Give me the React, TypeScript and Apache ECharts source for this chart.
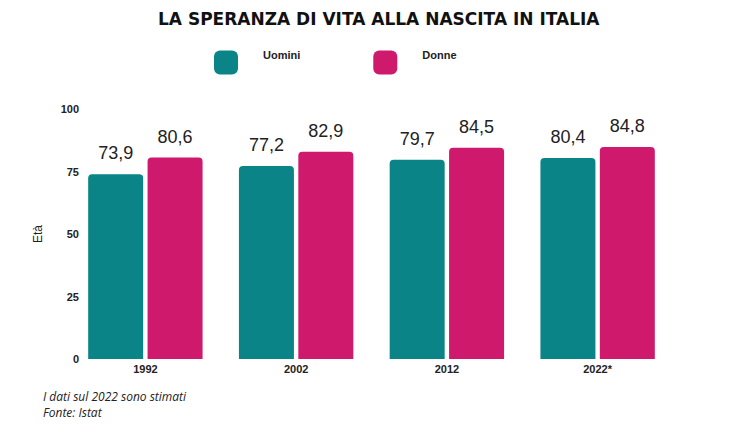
import React, { useEffect, useRef } from "react";
import * as echarts from "echarts";

const categories = ["1992", "2002", "2012", "2022*"];
const uomini = [73.9, 77.2, 79.7, 80.4];
const donne = [80.6, 82.9, 84.5, 84.8];
const yMin = 0;
const yMax = 100;
const yInterval = 25;

const TEAL = "#0a8486";
const PINK = "#cf196c";

export default function App() {
  const ref = useRef<HTMLDivElement>(null);
  useEffect(() => {
    document.body.style.margin = "0";
    if (!ref.current) return;
    const chart = echarts.init(ref.current, undefined, { renderer: "svg" });
    const fmt = (p: any) => String(p.value).replace(".", ",");
    chart.setOption({
      animation: false,
      backgroundColor: "#ffffff",
      title: {
        text: "LA SPERANZA DI VITA ALLA NASCITA IN ITALIA",
        left: 158,
        top: 10,
        padding: 0,
        textStyle: {
          fontFamily: "DejaVu Sans",
          fontWeight: 900,
          fontSize: 17,
          color: "#111111",
        },
      },
      legend: {
        top: 49,
        left: 214,
        padding: 0,
        icon: "roundRect",
        itemWidth: 24,
        itemHeight: 24,
        itemGap: 73,
        formatter: (n: string) => "{a|" + n + "}",
        textStyle: {
          rich: {
            a: {
              fontFamily: "Liberation Sans",
              fontWeight: "bold",
              fontSize: 11,
              color: "#222222",
              padding: [0, 0, 16, 20],
            },
          },
        },
        data: ["Uomini", "Donne"],
      },
      grid: { left: 70, right: 63, top: 109, bottom: 74 },
      xAxis: {
        type: "category",
        data: categories,
        axisLine: { show: false },
        axisTick: { show: false },
        axisLabel: {
          margin: 4,
          fontFamily: "Liberation Sans",
          fontWeight: "bold",
          fontSize: 11,
          color: "#222222",
        },
      },
      yAxis: {
        type: "value",
        min: yMin,
        max: yMax,
        interval: yInterval,
        name: "Età",
        nameLocation: "middle",
        nameGap: 26,
        nameTextStyle: {
          fontFamily: "Liberation Sans",
          fontSize: 12,
          color: "#222222",
        },
        splitLine: { show: false },
        axisLine: { show: false },
        axisTick: { show: false },
        axisLabel: {
          margin: -9,
          fontFamily: "Liberation Sans",
          fontWeight: "bold",
          fontSize: 11,
          color: "#222222",
        },
      },
      series: [
        {
          name: "Uomini",
          type: "bar",
          data: uomini,
          barWidth: 55,
          barGap: "8%",
          itemStyle: { color: TEAL, borderRadius: [4, 4, 0, 0] },
          label: {
            show: true,
            position: "top",
            distance: 12,
            formatter: fmt,
            fontFamily: "Liberation Sans",
            fontSize: 18,
            color: "#222222",
          },
        },
        {
          name: "Donne",
          type: "bar",
          data: donne,
          barWidth: 55,
          itemStyle: { color: PINK, borderRadius: [4, 4, 0, 0] },
          label: {
            show: true,
            position: "top",
            distance: 12,
            formatter: fmt,
            fontFamily: "Liberation Sans",
            fontSize: 18,
            color: "#222222",
          },
        },
      ],
      graphic: [
        {
          type: "text",
          left: 43,
          top: 388,
          style: {
            text: "I dati sul 2022 sono stimati\nFonte: Istat",
            font: "italic 12px 'Open Sans'",
            fill: "#222222",
            lineHeight: 16,
          },
        },
      ],
    });
    return () => chart.dispose();
  }, []);
  return <div ref={ref} style={{ width: 736, height: 433 }} />;
}
